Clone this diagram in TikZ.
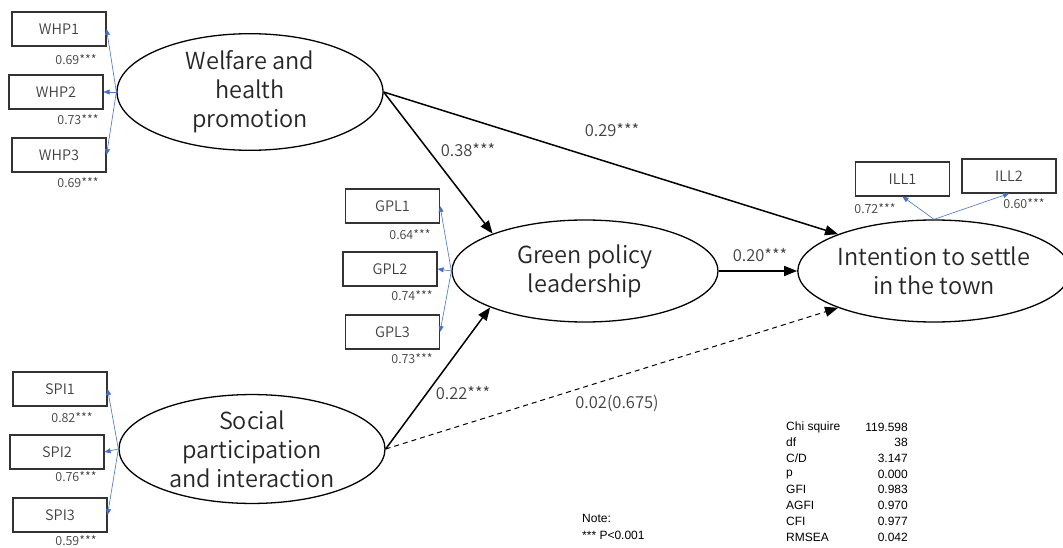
\documentclass[tikz,border=0pt]{standalone}
\usepackage{fontspec}
\setmainfont{Noto Sans CJK JP}[UprightFont=* DemiLight]
\newfontfamily\arialfont{Liberation Sans}
\usetikzlibrary{shapes.geometric,arrows.meta}

\definecolor{txtgray}{HTML}{404040}
\definecolor{loadblue}{HTML}{4472C4}

\tikzset{
  latent/.style={ellipse,draw,line width=1.3pt,inner sep=0pt,align=center,font=\fontsize{23.5}{29}\selectfont,text=black!85},
  indicator/.style={rectangle,draw=black!80,line width=1.1pt,minimum width=94pt,minimum height=34pt,inner sep=0pt,font=\fontsize{14.5}{16}\selectfont,text=txtgray},
  loading/.style={font=\fontsize{12.5}{14}\selectfont,text=txtgray,inner sep=0pt},
  coef/.style={font=\fontsize{16.5}{18}\selectfont,text=txtgray,inner sep=0pt},
  effect/.style={line width=1.5pt,-{Triangle[length=13pt,width=10pt]}},
  loadarrow/.style={loadblue,line width=0.6pt,-{Triangle[length=6pt,width=5pt]}},
  fitrow/.style={font=\arialfont\fontsize{12}{14}\selectfont,inner sep=0pt},
}

\begin{document}
\begin{tikzpicture}[x=1pt,y=-1pt]

\useasboundingbox (0,0) rectangle (1063,548);

% latent variables
\node [latent,minimum width=266pt,minimum height=100pt] (wel) at (250,92) {Welfare and\\health\\promotion};
\node [latent,minimum width=266pt,minimum height=102pt] (gpl) at (585,271) {Green policy\\leadership};
\node [latent,minimum width=266pt,minimum height=102pt] (spi) at (252,449) {Social\\participation\\and interaction};
\node [latent,minimum width=258pt,minimum height=102pt] (ill) at (934,271) {Intention to settle\\in the town};

% indicators
\node [indicator] (whp1) at (59,29) {WHP1};
\node [indicator] (whp2) at (56,92) {WHP2};
\node [indicator] (whp3) at (59,155) {WHP3};
\node [indicator] (gpl1) at (392.5,206) {GPL1};
\node [indicator] (gpl2) at (390,269) {GPL2};
\node [indicator] (gpl3) at (392.5,332) {GPL3};
\node [indicator] (spi1) at (60,389) {SPI1};
\node [indicator] (spi2) at (57,452) {SPI2};
\node [indicator] (spi3) at (60,515) {SPI3};
\node [indicator] (ill1) at (902.5,179) {ILL1};
\node [indicator] (ill2) at (1009,176) {ILL2};

% measurement paths
\draw [loadarrow] (wel.west) -- (whp1.east);
\draw [loadarrow] (wel.west) -- (whp2.east);
\draw [loadarrow] (wel.west) -- (whp3.east);
\draw [loadarrow] (gpl.west) -- (gpl1.east);
\draw [loadarrow] (gpl.west) -- (gpl2.east);
\draw [loadarrow] (gpl.west) -- (gpl3.east);
\draw [loadarrow] (spi.west) -- (spi1.east);
\draw [loadarrow] (spi.west) -- (spi2.east);
\draw [loadarrow] (spi.west) -- (spi3.east);
\draw [loadarrow] (ill.north) -- (ill1.south);
\draw [loadarrow] (ill.north) -- (ill2.south);

% loadings
\node [loading] (lwhp1) at (76,60) {0.69***};
\node [loading] (lwhp2) at (78,120) {0.73***};
\node [loading] (lwhp3) at (78,183) {0.69***};
\node [loading] (lgpl1) at (410,235) {0.64***};
\node [loading] (lgpl2) at (412,296) {0.74***};
\node [loading] (lgpl3) at (412,359) {0.73***};
\node [loading] (lspi1) at (72,418) {0.82***};
\node [loading] (lspi2) at (76,477) {0.76***};
\node [loading] (lspi3) at (76,541) {0.59***};
\node [loading] (lill1) at (875,209) {0.72***};
\node [loading] (lill2) at (1024,204) {0.60***};

% structural paths
\draw [effect] (wel.east) -- (gpl.158);
\draw [effect] (wel.east) -- (ill.159);
\draw [effect] (gpl.east) -- (ill.west);
\draw [effect] (spi.east) -- (gpl.201);
\draw [effect,line width=1pt,dash pattern=on 5pt off 4pt] (spi.east) -- (ill.201);

\node [coef] (c38) at (468,150) {0.38***};
\node [coef] (c29) at (612,130) {0.29***};
\node [coef] (c20) at (760,255) {0.20***};
\node [coef] (c22) at (463,393) {0.22***};
\node [coef] (c02) at (617,403) {0.02(0.675)};

% fit indices
\foreach \k/\v [count=\i from 0] in {Chi squire/119.598,df/38,{C/D}/3.147,p/0.000,GFI/0.983,AGFI/0.970,CFI/0.977,RMSEA/0.042}
{
  \node [fitrow,anchor=west] (fitk\i) at (786,427+15.7*\i) {\k};
  \node [fitrow,anchor=east] (fitv\i) at (908,427+15.7*\i) {\v};
}

\node [fitrow,anchor=west] (note1) at (582,518) {Note:};
\node [fitrow,anchor=west] (note2) at (582,535) {*** P<0.001};

\end{tikzpicture}
\end{document}
